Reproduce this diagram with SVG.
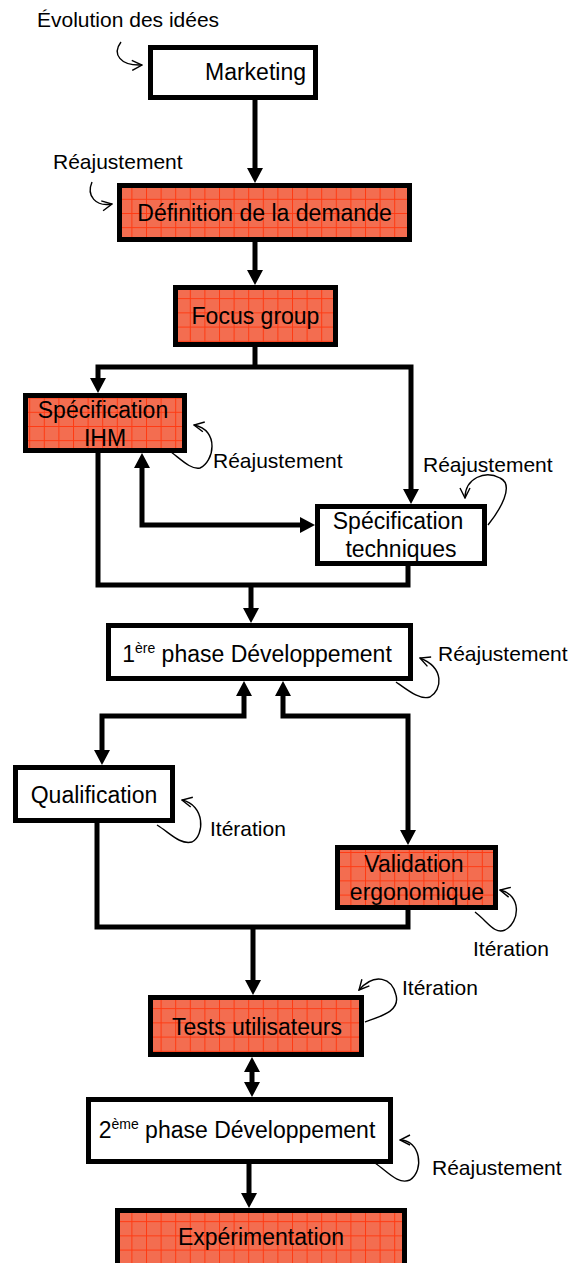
<svg xmlns="http://www.w3.org/2000/svg" width="573" height="1263" viewBox="0 0 573 1263">
<style>
.box{stroke:#000;stroke-width:5;}
.w{fill:#fff;}
.o{fill:url(#grid);}
.t{font-family:"Liberation Sans",Arial,sans-serif;font-size:23px;fill:#000;}
.lbl{font-family:"Liberation Sans",Arial,sans-serif;font-size:21px;fill:#000;}
.sup{font-size:14px;}
.c{fill:none;stroke:#000;stroke-width:5;stroke-linejoin:miter;stroke-linecap:butt;}
.arr{marker-end:url(#ah);}
.dbl{marker-start:url(#ah);marker-end:url(#ah);}
.loop{fill:none;stroke:#000;stroke-width:1.4;marker-end:url(#oh);}
</style>
<defs>
<pattern id="grid" patternUnits="userSpaceOnUse" width="14.6" height="14.2">
<rect width="14.6" height="14.2" fill="#F36D50"/>
<path d="M0,0.5 H14.6 M0.5,0 V14.2" stroke="#FF3A12" stroke-width="1" fill="none"/>
</pattern>
<marker id="ah" markerUnits="userSpaceOnUse" viewBox="0 0 15 16" refX="0" refY="8" markerWidth="15" markerHeight="16" orient="auto-start-reverse">
<path d="M0,0 L15,8 L0,16 z" fill="#000"/>
</marker>
<marker id="oh" markerUnits="userSpaceOnUse" viewBox="0 0 12 12" refX="11" refY="6" markerWidth="12" markerHeight="12" orient="auto">
<path d="M1,1 L11,6 L1,11" fill="none" stroke="#000" stroke-width="1.4"/>
</marker>
</defs>
<rect width="573" height="1263" fill="#fff"/>

<g id="connectors">
<path class="c arr" d="M255,100 V168"/>
<path class="c arr" d="M255,242 V270"/>
<path class="c" d="M255,347 V367"/>
<path class="c arr" d="M255,367 H98 V378"/>
<path class="c arr" d="M255,367 H411 V489"/>
<path class="c dbl" d="M142,468 V525 H300"/>
<path class="c" d="M98,453 V585 H408 V566"/>
<path class="c arr" d="M251,585 V608"/>
<path class="c dbl" d="M244,696 V716 H102 V750"/>
<path class="c dbl" d="M283,696 V716 H408 V830"/>
<path class="c" d="M97,823 V927 H408 V910"/>
<path class="c arr" d="M253,927 V980"/>
<path class="c dbl" d="M252,1072 V1082"/>
<path class="c arr" d="M249,1164 V1193"/>
</g>

<g id="loops">
<path class="loop" d="M121,42 C112,54 120,66 142,65"/>
<path class="loop" d="M92,182 C86,196 96,207 112,204"/>
<path class="loop" d="M167,449 C180,458 190,470 200,468 C214,462 220,430 194,425"/>
<path class="loop" d="M488,525 C500,510 515,485 500,478 C485,470 465,478 465,498"/>
<path class="loop" d="M396,682 C410,692 420,700 430,697 C442,690 445,668 420,658"/>
<path class="loop" d="M157,825 C170,833 180,845 192,842 C205,835 205,805 182,800"/>
<path class="loop" d="M475,912 C488,922 495,935 505,930 C520,922 522,895 500,890"/>
<path class="loop" d="M365,1022 C385,1015 400,1010 396,995 C392,978 375,972 359,990"/>
<path class="loop" d="M375,1163 C388,1172 398,1185 410,1180 C425,1170 420,1140 400,1140"/>
</g>

<g id="labels">
<text class="lbl" x="37" y="27">Évolution des idées</text>
<text class="lbl" x="53" y="169">Réajustement</text>
<text class="lbl" x="213" y="468">Réajustement</text>
<text class="lbl" x="423" y="472">Réajustement</text>
<text class="lbl" x="438" y="661">Réajustement</text>
<text class="lbl" x="210" y="836">Itération</text>
<text class="lbl" x="473" y="956">Itération</text>
<text class="lbl" x="402" y="995">Itération</text>
<text class="lbl" x="432" y="1175">Réajustement</text>
</g>

<g id="marketing">
<rect class="box w" x="150.5" y="47.5" width="165" height="50"/>
<text class="t" x="205" y="80">Marketing</text>
</g>
<g id="definition">
<rect class="box o" x="119.5" y="185.5" width="290" height="54"/>
<text class="t" x="264.5" y="221" text-anchor="middle">Définition de la demande</text>
</g>
<g id="focus">
<rect class="box o" x="175.5" y="287.5" width="160" height="57"/>
<text class="t" x="255.5" y="324" text-anchor="middle">Focus group</text>
</g>
<g id="spec-ihm">
<rect class="box o" x="25.5" y="395.5" width="159" height="55"/>
<text class="t" x="103" y="418" text-anchor="middle">Spécification</text>
<text class="t" x="105" y="446" text-anchor="middle">IHM</text>
</g>
<g id="spec-tech">
<rect class="box w" x="317.5" y="506.5" width="167" height="57"/>
<text class="t" x="398" y="529" text-anchor="middle">Spécification</text>
<text class="t" x="401" y="557" text-anchor="middle">techniques</text>
</g>
<g id="dev1">
<rect class="box w" x="108.5" y="625.5" width="302" height="53"/>
<text class="t" x="257" y="662" text-anchor="middle">1<tspan class="sup" dy="-9">ère</tspan><tspan dy="9"> phase Développement</tspan></text>
</g>
<g id="qualification">
<rect class="box w" x="15.5" y="767.5" width="157" height="53"/>
<text class="t" x="94" y="803" text-anchor="middle">Qualification</text>
</g>
<g id="validation">
<rect class="box o" x="337.5" y="847.5" width="158" height="60"/>
<text class="t" x="414" y="872" text-anchor="middle">Validation</text>
<text class="t" x="417" y="900" text-anchor="middle">ergonomique</text>
</g>
<g id="tests">
<rect class="box o" x="150.5" y="997.5" width="211" height="57"/>
<text class="t" x="257" y="1035" text-anchor="middle">Tests utilisateurs</text>
</g>
<g id="dev2">
<rect class="box w" x="88.5" y="1099.5" width="302" height="62"/>
<text class="t" x="237" y="1138" text-anchor="middle">2<tspan class="sup" dy="-9">ème</tspan><tspan dy="9"> phase Développement</tspan></text>
</g>
<g id="experimentation">
<rect class="box o" x="117.5" y="1210.5" width="287" height="60"/>
<text class="t" x="261" y="1245" text-anchor="middle">Expérimentation</text>
</g>
</svg>
